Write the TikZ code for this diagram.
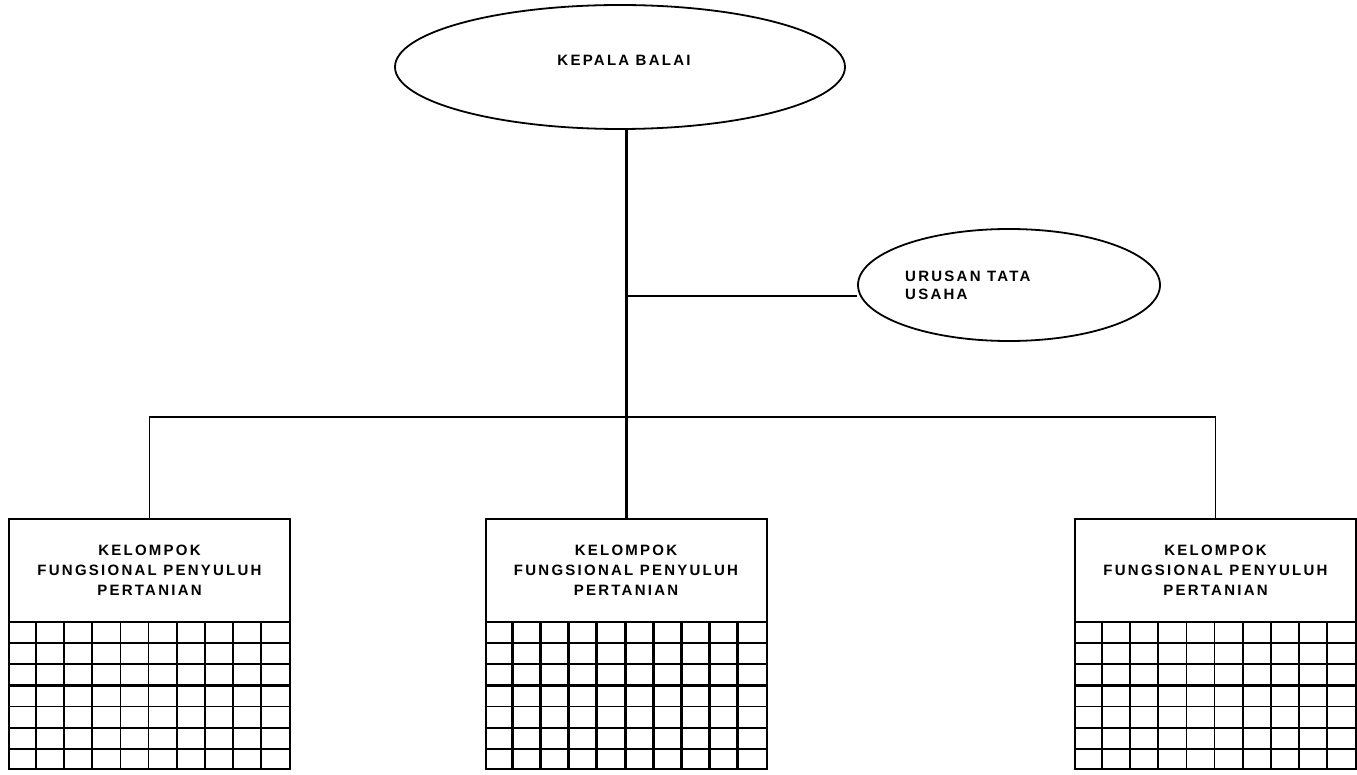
\documentclass[tikz,border=0pt]{standalone}
\usepackage{fontspec}
\setmainfont{Liberation Sans}
\newfontfamily\lblfont{Liberation Sans}[LetterSpace=15]
\usetikzlibrary{shapes.geometric}
\newcommand\orggrid[2]{%
  \foreach \i in {1,...,9}
    \draw[line width=#2] ([xshift={\i*28.1pt}]#1.south west) -- ([xshift={\i*28.1pt},yshift=148pt]#1.south west);
  \foreach \j in {1,2,3,5,6}
    \draw[gridln] ([yshift={\j*21.14pt}]#1.south west) -- ([yshift={\j*21.14pt}]#1.south east);
  \draw[line width=3pt] ([yshift=84.6pt]#1.south west) -- ([yshift=84.6pt]#1.south east);
  \draw[line width=2pt] ([yshift=148pt]#1.south west) -- ([yshift=148pt]#1.south east);
}
\begin{document}
\begin{tikzpicture}[x=1pt,y=-1pt,
  ell/.style={ellipse, draw, line width=1.8pt, inner sep=0pt},
  lbl/.style={font=\lblfont\bfseries\fontsize{15}{20}\selectfont, inner sep=0pt, align=center},
  obox/.style={rectangle, draw, line width=2pt, minimum width=281pt, minimum height=250pt, inner sep=0pt},
  gridln/.style={line width=1.8pt},
  conn/.style={line width=1.5pt},
  trunk/.style={line width=3pt}]
\useasboundingbox (0,0) rectangle (1357,775);
% ellipses
\node[ell, minimum width=450pt, minimum height=124pt] (kb) at (620,67) {};
\node[lbl] (kbt) at (624,60) {KEPALA BALAI};
\node[ell, minimum width=302pt, minimum height=112pt] (uts) at (1009,285) {};
\node[lbl, align=left, anchor=west, font=\lblfont\bfseries\fontsize{15}{18}\selectfont] (utst) at (905,285) {URUSAN TATA\\USAHA};
% boxes
\node[obox] (b1) at (149.5,644) {};
\node[obox] (b2) at (626,644) {};
\node[obox] (b3) at (1215.5,644) {};
\node[lbl] (t1) at ([yshift=-52pt]b1.north) {KELOMPOK\\FUNGSIONAL PENYULUH\\PERTANIAN};
\node[lbl] (t2) at ([yshift=-52pt]b2.north) {KELOMPOK\\FUNGSIONAL PENYULUH\\PERTANIAN};
\node[lbl] (t3) at ([yshift=-52pt]b3.north) {KELOMPOK\\FUNGSIONAL PENYULUH\\PERTANIAN};
\orggrid{b1}{1.8pt}
\orggrid{b2}{3pt}
\orggrid{b3}{1.8pt}
% connectors
\coordinate (bar) at (626,417);
\coordinate (j1) at (626,296);
\draw[trunk] (kb.south -| b2.north) -- (b2.north);
\draw[conn] (j1) -- (j1 -| uts.west);
\draw[conn] (b1.north) |- (bar) -| (b3.north);
\end{tikzpicture}
\end{document}
